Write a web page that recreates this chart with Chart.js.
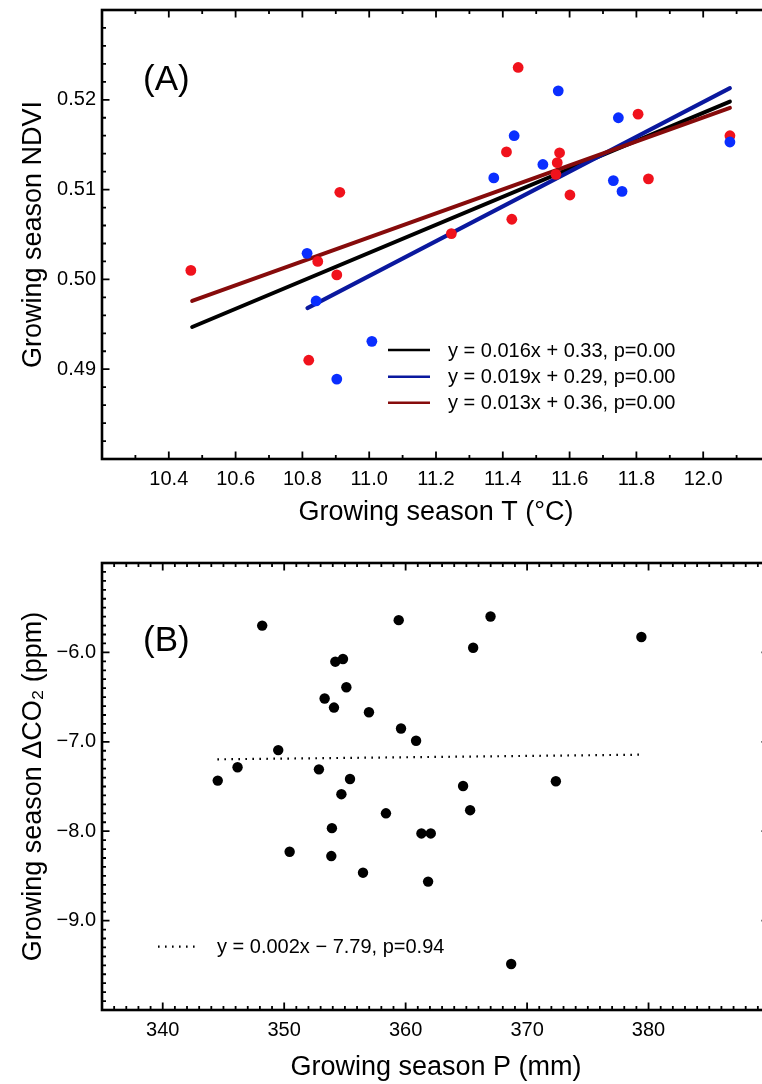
<!DOCTYPE html>
<html>
<head>
<title>Growing season NDVI and CO2</title>
<script src="https://cdn.jsdelivr.net/npm/chart.js"></script>
<style>
  html, body { margin: 0; padding: 0; overflow: hidden; background: #fff; }
  canvas { display: block; }
</style>
</head>
<body>
<canvas id="chartA" width="790" height="540"></canvas>
<canvas id="chartB" width="790" height="544"></canvas>

<script>
// ---- panel A: growing season T vs NDVI ----
var redT    = [10.466, 10.819, 10.846, 10.903, 10.912, 11.246, 11.411, 11.427, 11.446, 11.559, 11.563, 11.570, 11.601, 11.805, 11.836, 12.080];
var redNDVI = [0.5010, 0.4910, 0.5020, 0.5005, 0.5097, 0.5051, 0.5142, 0.5067, 0.5236, 0.5117, 0.5130, 0.5141, 0.5094, 0.5184, 0.5112, 0.5160];
var blueT    = [10.814, 10.841, 10.903, 11.008, 11.373, 11.434, 11.520, 11.566, 11.731, 11.746, 11.757, 12.080];
var blueNDVI = [0.5029, 0.4976, 0.4889, 0.4931, 0.5113, 0.5160, 0.5128, 0.5210, 0.5110, 0.5180, 0.5098, 0.5153];

// regression lines, end points
var allFitT     = [10.47, 12.08];
var allFitNDVI  = [0.4947, 0.5198];
var blueFitT    = [10.815, 12.08];
var blueFitNDVI = [0.4968, 0.5213];
var redFitT     = [10.47, 12.08];
var redFitNDVI  = [0.4976, 0.5191];
var fitLabelsA  = ['y = 0.016x + 0.33, p=0.00', 'y = 0.019x + 0.29, p=0.00', 'y = 0.013x + 0.36, p=0.00'];

var tempTicks = [10.4, 10.6, 10.8, 11.0, 11.2, 11.4, 11.6, 11.8, 12.0];
var ndviTicks = [0.49, 0.50, 0.51, 0.52];

// ---- panel B: growing season P vs dCO2 ----
var precip = [344.53, 346.16, 348.19, 349.51, 350.45, 352.86, 353.33, 353.88, 353.93, 354.10, 354.21, 354.71, 354.84, 355.12, 355.42, 356.49,
              356.98, 358.38, 359.43, 359.62, 360.86, 361.30, 361.85, 362.07, 364.73, 365.31, 365.56, 366.99, 368.69, 372.37, 379.41];
var dco2   = [-7.434, -7.285, -5.700, -7.093, -8.230, -7.308, -6.516, -8.278, -7.966, -6.617, -6.104, -7.586, -6.074, -6.390, -7.416, -8.464,
              -6.669, -7.800, -5.639, -6.851, -6.988, -8.025, -8.564, -8.025, -7.494, -7.765, -5.948, -5.599, -9.485, -7.441, -5.828];
var fitP    = [344.5, 379.4];
var fitCO2  = [-7.196, -7.144];
var fitLabelB = 'y = 0.002x \u2212 7.79, p=0.94';

var precipTicks = [340, 350, 360, 370, 380];
var co2Ticks    = [-9, -8, -7, -6];

function pairs(xs, ys) {
    return xs.map(function(x, i) { return { x: x, y: ys[i] }; });
}

var FONT = '"Liberation Sans", Arial, Helvetica, sans-serif';
var tickFont  = { family: FONT, size: 20 };
var titleFont = { family: FONT, size: 27 };

// inward ticks on all sides + frame
var frameTicks = {
    id: 'frameTicks',
    afterDraw: function(chart, args, opts) {
        var ctx = chart.ctx, a = chart.chartArea;
        var xs = chart.scales.x, ys = chart.scales.y;
        ctx.save();
        ctx.strokeStyle = '#000';
        ctx.lineWidth = 1.8;
        function each(scale, minor, major, fn) {
            var every = Math.round(major / minor);
            var n0 = Math.ceil(scale.min / minor - 1e-6), n1 = Math.floor(scale.max / minor + 1e-6);
            for (var n = n0; n <= n1; n++) {
                fn(scale.getPixelForValue(n * minor), ((n % every) + every) % every === 0 ? 7.5 : 4);
            }
        }
        ctx.beginPath();
        each(xs, opts.xMinor, opts.xMajor, function(px, len) {
            ctx.moveTo(px, a.bottom); ctx.lineTo(px, a.bottom - len);
            ctx.moveTo(px, a.top); ctx.lineTo(px, a.top + len);
        });
        each(ys, opts.yMinor, opts.yMajor, function(py, len) {
            ctx.moveTo(a.left, py); ctx.lineTo(a.left + len, py);
            if (opts.rightTicks) { ctx.moveTo(a.right, py); ctx.lineTo(a.right - len - 1, py); }
        });
        ctx.stroke();
        ctx.lineWidth = 2.6;
        ctx.strokeRect(a.left, a.top, a.right - a.left, a.bottom - a.top);
        ctx.restore();
    }
};

// panel letter and regression key
var keyText = {
    id: 'keyText',
    afterDraw: function(chart, args, opts) {
        var ctx = chart.ctx;
        ctx.save();
        ctx.fillStyle = '#000';
        ctx.textBaseline = 'middle';
        ctx.font = '35px ' + FONT;
        ctx.fillText(opts.panel, opts.panelX, opts.panelY);
        ctx.font = '20px ' + FONT;
        var lines = chart.data.datasets.filter(function(d) { return d.showLine; });
        lines.forEach(function(d, i) {
            var y = opts.rows[i];
            ctx.beginPath();
            ctx.strokeStyle = d.borderColor;
            ctx.lineWidth = opts.dash ? 2.2 : 2.6;
            ctx.setLineDash(opts.dash || []);
            ctx.moveTo(opts.x0, y); ctx.lineTo(opts.x1, y);
            ctx.stroke();
            ctx.setLineDash([]);
            ctx.fillText(d.label, opts.textX, y + 1);
        });
        ctx.restore();
    }
};

function xAxis(min, max, list, fmt, title, height, titlePad) {
    return {
        type: 'linear', min: min, max: max,
        grid: { display: false, drawTicks: false }, border: { display: false },
        afterBuildTicks: function(s) { s.ticks = list.map(function(v) { return { value: v }; }); },
        ticks: { color: '#000', font: tickFont, padding: 8, maxRotation: 0, autoSkip: false, callback: fmt },
        title: { display: true, text: title, color: '#000', font: titleFont, padding: { top: 0, bottom: titlePad } },
        afterFit: function(s) { s.height = height; s.paddingLeft = 0; s.paddingRight = 0; }
    };
}
function yAxis(min, max, list, fmt, title) {
    return {
        type: 'linear', min: min, max: max,
        grid: { display: false, drawTicks: false }, border: { display: false },
        afterBuildTicks: function(s) { s.ticks = list.map(function(v) { return { value: v }; }); },
        ticks: { color: '#000', font: tickFont, padding: 6, autoSkip: false, callback: fmt },
        title: { display: true, text: title, color: '#000', font: titleFont, padding: { top: 17, bottom: 0 } },
        afterFit: function(s) { s.width = 102; s.paddingTop = 0; s.paddingBottom = 0; }
    };
}

var chartA = new Chart(document.getElementById('chartA'), {
    type: 'scatter',
    data: {
        datasets: [
            { label: fitLabelsA[0], data: pairs(allFitT, allFitNDVI), showLine: true, borderColor: '#000000', borderWidth: 4, borderCapStyle: 'round', pointRadius: 0, order: 4 },
            { label: fitLabelsA[1], data: pairs(blueFitT, blueFitNDVI), showLine: true, borderColor: '#0a189e', borderWidth: 4, borderCapStyle: 'round', pointRadius: 0, order: 3 },
            { label: fitLabelsA[2], data: pairs(redFitT, redFitNDVI), showLine: true, borderColor: '#860b0b', borderWidth: 4, borderCapStyle: 'round', pointRadius: 0, order: 2 },
            { label: 'red', data: pairs(redT, redNDVI), backgroundColor: '#f0121c', borderWidth: 0, pointRadius: 5.4, order: 1 },
            { label: 'blue', data: pairs(blueT, blueNDVI), backgroundColor: '#0a2eff', borderWidth: 0, pointRadius: 5.4, order: 0 }
        ]
    },
    options: {
        responsive: false,
        animation: false,
        layout: { padding: { left: 0, right: 20, top: 10, bottom: 0 } },
        scales: {
            x: xAxis(10.2, 12.2, tempTicks, function(v) { return v.toFixed(1); }, 'Growing season T (\u00B0C)', 81, 11),
            y: yAxis(0.48, 0.53, ndviTicks, function(v) { return v.toFixed(2); }, 'Growing season NDVI')
        },
        plugins: {
            legend: { display: false },
            tooltip: { enabled: false },
            frameTicks: { xMinor: 0.1, xMajor: 0.2, yMinor: 0.002, yMajor: 0.01, rightTicks: false },
            keyText: { panel: '(A)', panelX: 143, panelY: 80, rows: [350, 376.7, 402.7], x0: 388, x1: 430, textX: 448 }
        }
    },
    plugins: [frameTicks, keyText]
});

var chartB = new Chart(document.getElementById('chartB'), {
    type: 'scatter',
    data: {
        datasets: [
            { label: fitLabelB, data: pairs(fitP, fitCO2), showLine: true, borderColor: '#000000', borderWidth: 2.2, borderDash: [1.6, 5.4], pointRadius: 0, order: 1 },
            { label: 'points', data: pairs(precip, dco2), backgroundColor: '#000000', borderWidth: 0, pointRadius: 5.2, order: 0 }
        ]
    },
    options: {
        responsive: false,
        animation: false,
        layout: { padding: { left: 0, right: 20, top: 23, bottom: 0 } },
        scales: {
            x: xAxis(335, 390, precipTicks, function(v) { return String(v); }, 'Growing season P (mm)', 74, 0),
            y: yAxis(-10, -5, co2Ticks, function(v) { return v.toFixed(1).replace('-', '\u2212'); }, 'Growing season \u0394CO\u2082 (ppm)')
        },
        plugins: {
            legend: { display: false },
            tooltip: { enabled: false },
            frameTicks: { xMinor: 1, xMajor: 10, yMinor: 0.1, yMajor: 1, rightTicks: true },
            keyText: { panel: '(B)', panelX: 143, panelY: 101, rows: [406.7], x0: 158, x1: 195, textX: 217, dash: [1.6, 5.4] }
        }
    },
    plugins: [frameTicks, keyText]
});
</script>
</body>
</html>
